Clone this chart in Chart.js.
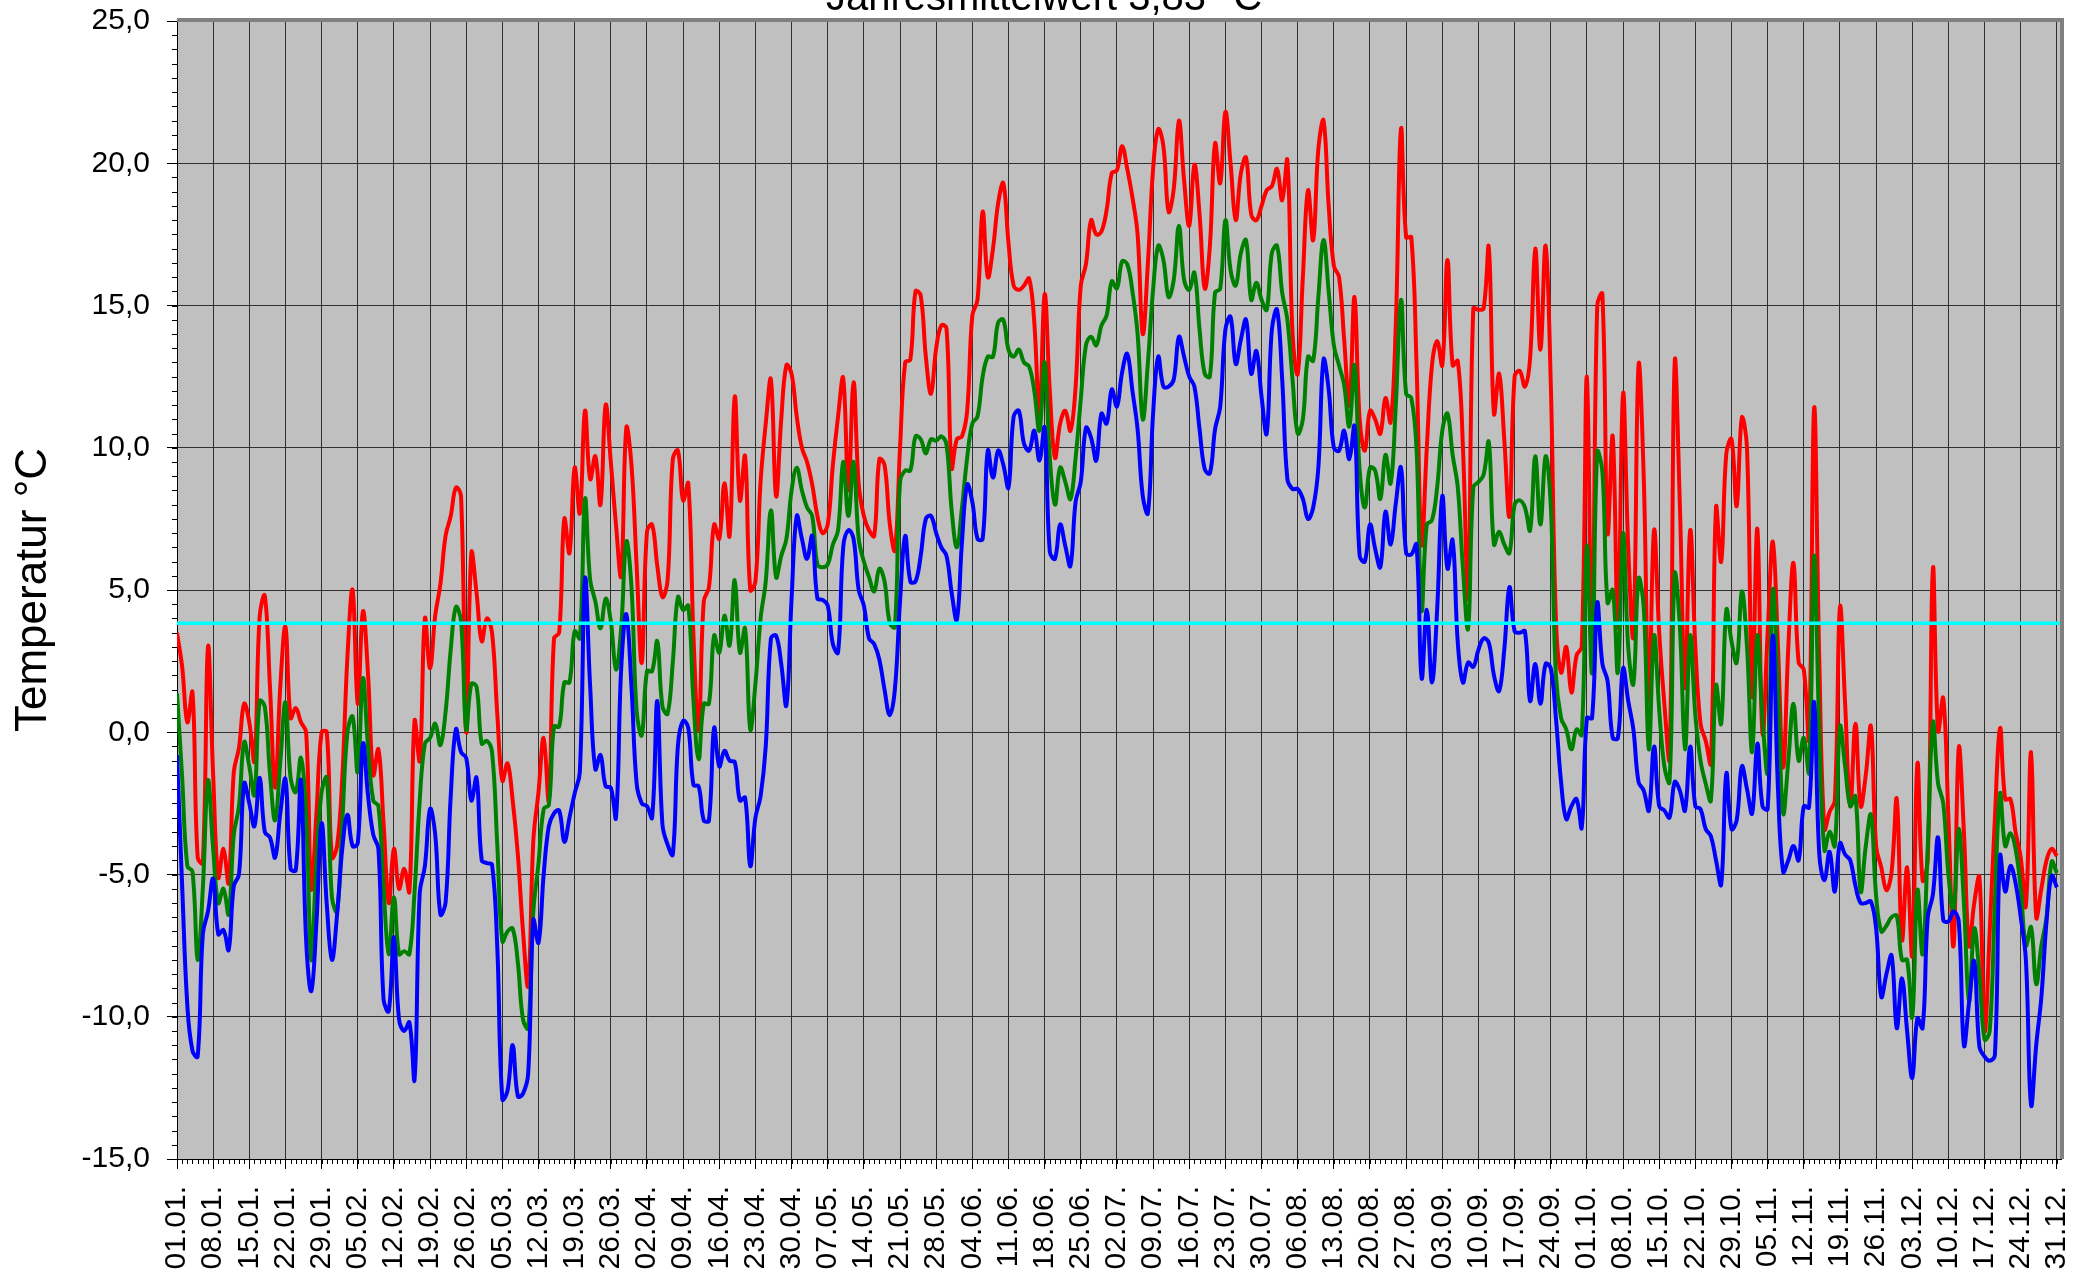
<!DOCTYPE html>
<html lang="de">
<head>
<meta charset="utf-8">
<title>Temperatur Tageswerte</title>
<script src="https://cdn.jsdelivr.net/npm/chart.js@4.4.1/dist/chart.umd.min.js"></script>
<style>
  html, body { margin: 0; padding: 0; background: #fff; }
  canvas { display: block; }
</style>
</head>
<body>
<canvas id="tempChart" width="2089" height="1283"></canvas>
<script>
// Tageswerte, eine Zeile = eine Woche ab dem Datum im Kommentar
const maxTemp = [
  3.5, 2.3, 0.35, 1.4, -4.4, -4.6, 3.0,          // 01.01.
  -1.5, -5.1, -4.1, -5.3, -1.4, -0.55, 1.0,      // 08.01.
  0.35, -1.0, 4.05, 4.8, 1.6, -1.95, 1.6,        // 15.01.
  3.7, 0.5, 0.85, 0.35, 0.0, -5.5, -2.85,        // 22.01.
  0.0, 0.0, -4.4, -4.0, -1.6, 2.65, 5.0,         // 29.01.
  1.0, 4.25, 2.0, -1.5, -0.6, -3.2, -6.0,        // 05.02.
  -4.1, -5.5, -4.8, -5.6, 0.4, -1.0, 4.0,        // 12.02.
  2.25, 4.1, 5.2, 6.9, 7.6, 8.6, 8.3,            // 19.02.
  0.0, 6.3, 4.9, 3.2, 4.0, 3.5, 0.7,             // 26.02.
  -1.7, -1.1, -2.4, -4.3, -7.0, -8.9, -3.8,      // 05.03.
  -2.1, -0.2, -2.4, 3.3, 3.5, 7.5, 6.3,          // 12.03.
  9.3, 7.7, 11.3, 8.9, 9.7, 8.0, 11.5,           // 19.03.
  9.5, 7.3, 5.5, 10.7, 9.4, 5.85, 2.45,          // 26.03.
  7.05, 7.3, 5.85, 4.75, 5.35, 9.6, 9.9,         // 02.04.
  8.15, 8.75, 3.4, 0.05, 4.6, 5.1, 7.3,          // 09.04.
  6.8, 8.75, 6.9, 11.8, 8.15, 9.7, 5.0,          // 16.04.
  5.3, 8.8, 10.85, 12.4, 8.3, 11.0, 12.9,        // 23.04.
  12.6, 11.1, 10.0, 9.5, 8.7, 7.6, 7.0,          // 30.04.
  7.3, 9.4, 11.1, 12.45, 8.5, 12.3, 8.7,         // 07.05.
  7.6, 7.1, 6.9, 9.6, 9.4, 7.35, 6.4,            // 14.05.
  10.0, 13.0, 13.1, 15.5, 15.35, 13.2, 11.9,     // 21.05.
  13.5, 14.3, 14.2, 9.3, 10.3, 10.4, 11.3,       // 28.05.
  14.65, 15.2, 18.3, 16.0, 17.0, 18.6, 19.3,     // 04.06.
  17.2, 15.7, 15.55, 15.7, 15.95, 14.4, 11.1,    // 11.06.
  15.4, 12.0, 9.65, 10.85, 11.3, 10.6, 12.15,    // 18.06.
  15.7, 16.45, 18.0, 17.5, 17.6, 18.35, 19.65,   // 25.06.
  19.75, 20.6, 19.8, 18.8, 17.5, 14.0, 16.5,     // 02.07.
  19.8, 21.2, 20.6, 18.3, 19.1, 21.5, 19.4,      // 09.07.
  17.8, 19.95, 18.2, 15.6, 17.1, 20.7, 19.3,     // 16.07.
  21.8, 20.0, 18.0, 19.65, 20.2, 18.2, 18.0,     // 23.07.
  18.5, 19.05, 19.2, 19.8, 18.7, 20.1, 14.0,     // 30.07.
  12.6, 16.0, 19.05, 17.3, 20.5, 21.5, 18.5,     // 06.08.
  16.4, 16.0, 13.8, 11.5, 15.3, 11.0, 9.9,       // 13.08.
  11.3, 11.0, 10.5, 11.75, 10.9, 14.35, 21.2,    // 20.08.
  17.4, 17.4, 13.0, 6.6, 10.0, 12.9, 13.75,      // 27.08.
  12.9, 16.6, 12.9, 13.05, 10.0, 4.75, 14.9,     // 03.09.
  14.85, 14.9, 17.05, 11.2, 12.6, 10.3, 7.6,     // 10.09.
  12.5, 12.7, 12.15, 13.15, 17.0, 13.45, 17.1,   // 17.09.
  12.3, 4.0, 2.1, 3.0, 1.4, 2.7, 3.0,            // 24.09.
  12.5, 2.4, 15.0, 15.4, 7.0, 10.4, 3.7,         // 01.10.
  11.9, 6.5, 3.4, 12.9, 9.0, 1.1, 7.1,           // 08.10.
  3.5, 1.0, -0.9, 13.0, 8.0, 1.55, 7.1,          // 15.10.
  3.0, 0.3, -0.3, -1.1, 7.9, 6.0, 9.8,           // 22.10.
  10.3, 7.95, 11.05, 10.0, 1.25, 7.15, -0.05,    // 29.10.
  3.5, 6.7, 3.0, -1.25, 3.0, 5.95, 2.45,         // 05.11.
  2.2, -0.2, 11.4, 2.5, -3.4, -2.8, -2.4,        // 12.11.
  4.4, 1.0, -2.6, 0.3, -2.6, -1.5, 0.2,          // 19.11.
  -4.0, -4.75, -5.55, -4.9, -2.35, -7.3, -4.75,  // 26.11.
  -7.85, -1.1, -5.2, -4.5, 5.75, 0.05, 1.2,      // 03.12.
  -3.0, -7.5, -0.55, -3.5, -7.5, -6.0, -5.1,     // 10.12.
  -10.5, -7.0, -3.0, 0.15, -2.35, -2.35, -3.5,   // 17.12.
  -4.4, -6.1, -0.7, -6.5, -5.5, -4.5, -4.1,      // 24.12.
  -4.35                                          // 31.12.
];

const meanTemp = [
  1.37, -1.6, -4.7, -4.9, -8.0, -5.5, -1.7,
  -4.1, -6.0, -5.5, -6.4, -3.6, -2.6, -0.35,
  -1.2, -2.2, 1.1, 0.9, -1.45, -3.1, -1.05,
  1.05, -1.6, -2.1, -0.9, -2.85, -8.0, -4.5,
  -2.1, -1.6, -5.8, -6.3, -3.2, 0.0, 0.55,
  -1.4, 1.9, -0.55, -2.4, -2.6, -5.5, -7.8,
  -5.8, -7.8, -7.7, -7.8, -5.6, -2.4, -0.4,
  -0.2, 0.3, -0.45, 0.7, 2.9, 4.4, 3.9,
  0.1, 1.7, 1.6, -0.4, -0.3, -0.7, -3.9,
  -7.35, -7.0, -6.9, -8.1, -10.1, -10.4, -6.3,
  -4.6, -2.7, -2.55, 0.2, 0.2, 1.75, 1.75,
  3.55, 3.3, 8.2, 5.35, 4.6, 3.65, 4.7,
  3.9, 2.2, 3.65, 6.7, 5.1, 0.75, -0.1,
  2.15, 2.15, 3.2, 0.9, 0.65, 2.45, 4.75,
  4.3, 4.45, 1.1, -0.95, 1.0, 1.0, 3.4,
  2.8, 4.1, 3.05, 5.35, 2.8, 3.65, 0.1,
  1.7, 4.0, 5.3, 7.8, 5.45, 6.2, 6.8,
  8.5, 9.3, 8.5, 7.9, 7.6, 5.9, 5.8,
  5.9, 6.6, 7.1, 9.5, 7.6, 9.5, 6.8,
  6.0, 5.45, 4.95, 5.75, 5.3, 3.85, 3.7,
  8.8, 9.2, 9.2, 10.4, 10.3, 9.8, 10.3,
  10.25, 10.4, 10.1, 7.8, 6.5, 7.9, 9.65,
  10.85, 11.1, 12.5, 13.2, 13.2, 14.4, 14.5,
  13.45, 13.2, 13.45, 13.0, 12.85, 12.0, 10.6,
  13.0, 9.65, 8.0, 9.3, 8.8, 8.2, 9.65,
  11.7, 13.6, 13.9, 13.6, 14.3, 14.65, 15.85,
  15.6, 16.55, 16.45, 15.5, 14.0, 11.0, 13.0,
  15.55, 17.1, 16.6, 15.3, 15.9, 17.8, 15.9,
  15.55, 16.15, 14.15, 12.6, 12.5, 15.45, 15.6,
  18.0, 16.25, 15.7, 16.85, 17.3, 15.2, 15.8,
  15.2, 14.85, 16.85, 17.1, 15.45, 14.5, 12.4,
  10.5, 11.0, 13.2, 13.05, 15.3, 17.3, 15.5,
  13.6, 12.9, 12.2, 10.75, 12.9, 9.2, 7.9,
  9.3, 9.2, 8.2, 9.75, 8.75, 11.5, 15.2,
  11.9, 11.75, 10.0, 4.3, 7.3, 7.45, 8.6,
  10.6, 11.2, 9.75, 8.6, 5.75, 3.65, 8.6,
  8.8, 9.05, 10.2, 6.6, 7.05, 6.6, 6.3,
  8.0, 8.15, 7.9, 7.1, 9.7, 7.3, 9.7,
  8.0, 2.0, 0.5, 0.1, -0.6, 0.1, -0.1,
  6.55, 2.1, 9.85, 9.15, 4.55, 5.0, 2.1,
  7.0, 3.0, 1.7, 5.4, 4.4, -0.6, 3.4,
  0.8, -1.2, -1.75, 5.55, 3.7, -0.6, 3.4,
  0.6, -1.0, -1.8, -2.4, 1.65, 0.3, 4.3,
  3.2, 2.45, 4.95, 3.0, -0.7, 3.4, 0.5,
  -1.4, 5.0, 1.5, -2.85, -1.0, 1.0, -1.0,
  -0.2, -1.4, 6.2, 0.0, -4.15, -3.5, -4.0,
  0.2, -1.2, -2.6, -2.25, -5.6, -4.0, -2.9,
  -5.75, -7.0, -6.8, -6.5, -6.45, -8.0, -8.0,
  -10.0, -5.55, -7.8, -4.0, 0.35, -1.8, -2.5,
  -5.0, -6.25, -3.4, -6.0, -9.45, -6.9, -8.5,
  -10.8, -10.5, -6.0, -2.15, -4.0, -3.55, -4.1,
  -5.5, -7.5, -6.85, -8.85, -7.5, -6.5, -4.55,
  -4.95
];

const minTemp = [
  -0.8, -5.4, -9.6, -11.2, -11.4, -7.1, -6.3,
  -5.15, -7.1, -6.95, -7.65, -5.4, -5.0, -1.8,
  -2.5, -3.3, -1.6, -3.5, -3.7, -4.4, -2.85,
  -1.65, -4.8, -4.85, -1.7, -7.3, -9.1, -6.7,
  -3.2, -6.05, -8.0, -6.4, -4.1, -2.9, -4.0,
  -3.9, -0.4, -2.25, -3.6, -4.1, -9.4, -9.8,
  -7.2, -10.1, -10.5, -10.2, -12.2, -5.65, -4.7,
  -2.7, -3.6, -6.4, -6.0, -2.25, 0.1, -0.7,
  -0.9, -2.4, -1.6, -4.5, -4.6, -4.65, -7.5,
  -12.9, -12.6, -11.0, -12.8, -12.7, -12.0, -6.6,
  -7.4, -5.0, -3.3, -2.85, -2.75, -3.85, -3.0,
  -2.15, -1.4, 5.4, 1.6, -1.3, -0.8, -1.9,
  -1.95, -3.0, 2.2, 4.15, 1.6, -1.8, -2.5,
  -2.6, -3.0, 1.1, -3.25, -3.95, -4.3, -0.45,
  0.4, 0.15, -1.85, -1.9, -3.1, -3.1, 0.15,
  -1.2, -0.65, -1.0, -1.05, -2.4, -2.3, -4.7,
  -3.0, -2.25, -0.5, 3.3, 3.4, 2.4, 0.95,
  4.7, 7.6, 6.8, 6.1, 6.9, 4.7, 4.65,
  4.45, 3.1, 2.8, 6.5, 7.1, 6.8, 5.0,
  4.45, 3.3, 3.1, 2.55, 1.5, 0.6, 1.5,
  4.6, 6.9, 5.3, 5.3, 6.2, 7.5, 7.6,
  7.0, 6.5, 6.2, 4.9, 3.95, 6.7, 8.7,
  8.1, 6.8, 6.8, 9.9, 8.95, 9.9, 9.4,
  8.6, 11.1, 11.3, 10.15, 9.9, 10.6, 9.55,
  10.7, 6.35, 6.1, 7.3, 6.55, 5.85, 8.1,
  8.8, 10.7, 10.35, 9.55, 11.2, 10.85, 12.05,
  11.45, 12.65, 13.3, 12.0, 10.65, 8.3, 7.7,
  11.2, 13.2, 12.15, 12.15, 12.4, 13.9, 13.2,
  12.5, 12.15, 10.65, 9.25, 9.1, 10.65, 11.45,
  14.15, 14.6, 12.95, 13.8, 14.5, 12.6, 13.4,
  11.8, 10.5, 14.15, 14.85, 12.4, 8.9, 8.55,
  8.55, 8.2, 7.5, 7.9, 9.3, 13.1, 12.05,
  10.0, 9.9, 10.6, 9.6, 10.75, 6.2, 6.0,
  7.3, 6.45, 5.8, 7.75, 6.6, 8.05, 9.3,
  6.3, 6.25, 6.6, 1.9, 4.3, 1.75, 4.3,
  8.3, 5.75, 6.75, 3.15, 1.75, 2.45, 2.3,
  2.9, 3.3, 3.15, 2.0, 1.45, 2.9, 5.1,
  3.55, 3.5, 3.55, 1.1, 2.4, 1.0, 2.4,
  2.25, 0.5, -1.75, -3.05, -2.6, -2.35, -3.35,
  0.5, 0.5, 4.55, 2.4, 1.8, -0.2, -0.2,
  2.25, 1.1, 0.1, -1.75, -2.05, -2.75, -0.5,
  -2.6, -2.75, -3.0, -1.75, -2.05, -2.75, -0.5,
  -2.6, -2.7, -3.4, -3.65, -4.5, -5.35, -1.45,
  -3.4, -3.1, -1.2, -2.0, -2.85, -0.4, -2.6,
  -2.7, 3.4, -2.0, -4.9, -4.5, -4.0, -4.5,
  -2.6, -2.65, 1.05, -4.3, -5.2, -4.2, -5.6,
  -3.9, -4.3, -4.5, -5.4, -6.0, -6.0, -5.95,
  -6.9, -9.3, -8.5, -7.85, -10.4, -8.65, -10.5,
  -12.15, -10.05, -10.4, -6.5, -5.7, -3.7, -6.6,
  -6.65, -6.3, -6.65, -11.0, -9.5, -8.05, -11.05,
  -11.4, -11.55, -11.35, -4.35, -5.6, -4.7, -5.3,
  -6.5, -8.0, -13.1, -11.0, -9.3, -6.65, -5.05,
  -5.45
];

const annualMean = 3.83;

const tickDays = [
  0, 7, 14, 21, 28, 35, 42, 49, 56, 63, 70, 77, 84, 91, 98, 105, 112, 119,
  126, 133, 140, 147, 154, 161, 168, 175, 182, 189, 196, 203, 210, 217, 224,
  231, 238, 245, 252, 259, 266, 273, 280, 287, 294, 301, 308, 315, 322, 329,
  336, 343, 350, 357, 364
];
const tickLabels = [
  "01.01.", "08.01.", "15.01.", "22.01.", "29.01.", "05.02.", "12.02.", "19.02.",
  "26.02.", "05.03.", "12.03.", "19.03.", "26.03.", "02.04.", "09.04.", "16.04.",
  "23.04.", "30.04.", "07.05.", "14.05.", "21.05.", "28.05.", "04.06.", "11.06.",
  "18.06.", "25.06.", "02.07.", "09.07.", "16.07.", "23.07.", "30.07.", "06.08.",
  "13.08.", "20.08.", "27.08.", "03.09.", "10.09.", "17.09.", "24.09.", "01.10.",
  "08.10.", "15.10.", "22.10.", "29.10.", "05.11.", "12.11.", "19.11.", "26.11.",
  "03.12.", "10.12.", "17.12.", "24.12.", "31.12."
];

const FONT = "'Liberation Sans', Arial, sans-serif";
const X_MAX = 364.8;
const Y_MIN = -15;
const Y_MAX = 25;

function toPoints(values) {
  return values.map((v, i) => ({ x: i, y: v }));
}

// Chart.js rechnet sonst Label-Überstand in den Rand ein
function clearScalePadding(scale) {
  scale.paddingTop = 0;
  scale.paddingBottom = 0;
  scale.paddingLeft = 0;
  scale.paddingRight = 0;
}

const plotFrame = {
  id: "plotFrame",
  beforeDraw(chart) {
    const { ctx, chartArea: a } = chart;
    ctx.save();
    ctx.fillStyle = "#c0c0c0";
    ctx.fillRect(a.left, a.top, a.right - a.left, a.bottom - a.top);
    ctx.restore();
  },
  afterDraw(chart) {
    const { ctx, chartArea: a, scales } = chart;
    ctx.save();
    // kleine Teilstriche
    ctx.strokeStyle = "#000";
    ctx.lineWidth = 1;
    ctx.beginPath();
    for (let d = 0; d < maxTemp.length; d++) {
      const x = Math.round(scales.x.getPixelForValue(d)) + 0.5;
      ctx.moveTo(x, a.bottom);
      ctx.lineTo(x, a.bottom + 5);
    }
    for (let v = Y_MIN; v <= Y_MAX; v += 0.5) {
      const y = Math.round(scales.y.getPixelForValue(v)) + 0.5;
      ctx.moveTo(a.left - 5, y);
      ctx.lineTo(a.left, y);
    }
    ctx.stroke();

    // grauer Rahmen oben und rechts
    ctx.strokeStyle = "#808080";
    ctx.lineWidth = 4;
    ctx.beginPath();
    ctx.moveTo(a.left, a.top - 1);
    ctx.lineTo(a.right + 1, a.top - 1);
    ctx.lineTo(a.right + 1, a.bottom);
    ctx.stroke();

    // Titel (oben angeschnitten) und Achsentitel
    ctx.fillStyle = "#000";
    ctx.font = `40px ${FONT}`;
    ctx.textAlign = "center";
    ctx.textBaseline = "alphabetic";
    ctx.fillText("Jahresmittelwert 3,83 °C", 1044, 10);

    ctx.translate(34, (a.top + a.bottom) / 2);
    ctx.rotate(-Math.PI / 2);
    ctx.font = `44px ${FONT}`;
    ctx.textBaseline = "middle";
    ctx.fillText("Temperatur °C", 0, 0);
    ctx.restore();
  },
};

new Chart(document.getElementById("tempChart"), {
  type: "line",
  data: {
    datasets: [
      {
        label: "Jahresmittel",
        data: [{ x: 0, y: annualMean }, { x: X_MAX, y: annualMean }],
        borderColor: "#00ffff",
        borderWidth: 3.5,
        pointRadius: 0,
        tension: 0,
      },
      {
        label: "Minimum",
        data: toPoints(minTemp),
        borderColor: "#0000ff",
        borderWidth: 4,
        pointRadius: 0,
        tension: 0.4,
      },
      {
        label: "Mittel",
        data: toPoints(meanTemp),
        borderColor: "#008000",
        borderWidth: 4,
        pointRadius: 0,
        tension: 0.4,
      },
      {
        label: "Maximum",
        data: toPoints(maxTemp),
        borderColor: "#ff0000",
        borderWidth: 4,
        pointRadius: 0,
        tension: 0.4,
      },
    ],
  },
  options: {
    responsive: false,
    animation: false,
    devicePixelRatio: 1,
    layout: { autoPadding: false, padding: { left: 0, top: 21, right: 28, bottom: 0 } },
    plugins: { legend: { display: false }, tooltip: { enabled: false } },
    scales: {
      x: {
        type: "linear",
        min: 0,
        max: X_MAX,
        afterBuildTicks: (scale) => {
          scale.ticks = tickDays.map((d) => ({ value: d }));
        },
        afterFit: (scale) => {
          scale.height = 124;
          clearScalePadding(scale);
        },
        ticks: {
          autoSkip: false,
          minRotation: 90,
          maxRotation: 90,
          padding: 17,
          color: "#000",
          font: { family: FONT, size: 30 },
          callback: (value, index) => tickLabels[index],
        },
        grid: { color: "#303030", lineWidth: 1, tickLength: 10, tickColor: "#000" },
        border: { display: true, color: "#000", width: 1 },
      },
      y: {
        min: Y_MIN,
        max: Y_MAX,
        afterFit: (scale) => {
          scale.width = 177;
          clearScalePadding(scale);
        },
        ticks: {
          stepSize: 5,
          padding: 17,
          color: "#000",
          font: { family: FONT, size: 30 },
          callback: (value) => value.toFixed(1).replace(".", ","),
        },
        grid: { color: "#303030", lineWidth: 1, tickLength: 10, tickColor: "#000" },
        border: { display: true, color: "#000", width: 1 },
      },
    },
  },
  plugins: [plotFrame],
});
</script>
</body>
</html>
